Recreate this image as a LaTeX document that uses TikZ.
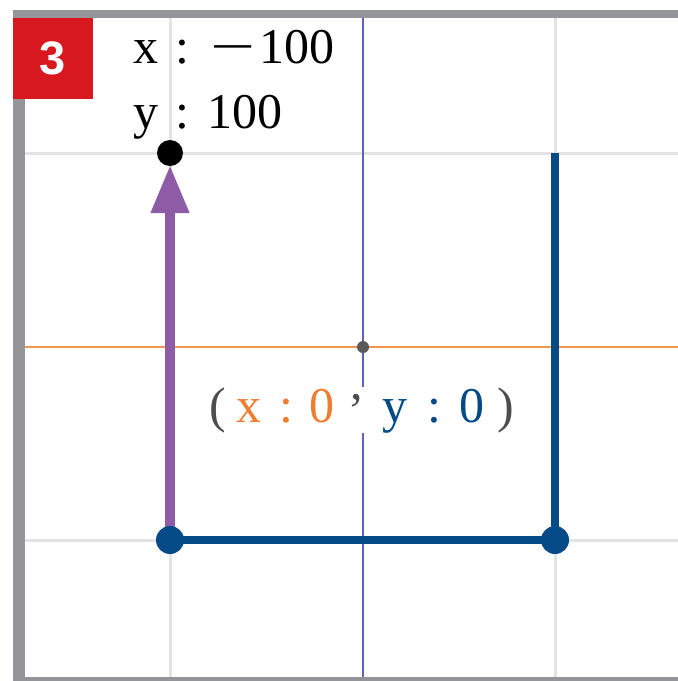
\documentclass[tikz,border=0pt]{standalone}
\usepackage{graphicx}
\usepackage{fontspec}
\setmainfont{Liberation Serif}
\newfontfamily\badgefont{Liberation Sans}
\usetikzlibrary{arrows.meta}
\definecolor{framegray}{HTML}{939598}
\definecolor{badgered}{HTML}{D7191F}
\definecolor{gridgray}{HTML}{E3E3E3}
\definecolor{axisorange}{HTML}{F39550}
\definecolor{axisblue}{HTML}{5B63BE}
\definecolor{routeblue}{HTML}{034A86}
\definecolor{vecpurple}{HTML}{8E5BA6}
\definecolor{textorange}{HTML}{EE7D31}
\definecolor{textgray}{HTML}{4D4D4D}
\begin{document}
\begin{tikzpicture}[
  x=1pt, y=-1pt,
  every node/.style={inner sep=0pt, font=\fontsize{50}{58}\selectfont},
  gridline/.style={gridgray, line width=3pt},
  dot/.style={circle, fill=#1, minimum size=28pt},
  vector/.style={vecpurple, line width=10pt,
    -{Triangle[length=48pt, width=36pt]}, shorten >=12pt},
  route/.style={routeblue, line width=8pt}
]
\useasboundingbox (0,0) rectangle (678,681);
% frame
\fill[framegray] (13,10) rectangle (678,18);
\fill[framegray] (13,10) rectangle (25,681);
\fill[framegray] (13,677) rectangle (678,681);
% grid and axes
\foreach \g in {170,555}
  \draw[gridline] (\g,18) -- (\g,677);
\foreach \g in {153,540}
  \draw[gridline] (25,\g) -- (678,\g);
\draw[axisorange, line width=2.4pt] (25,347) -- (678,347);
\draw[axisblue, line width=1.8pt] (363,18) -- (363,677);
\node[dot=black!65, minimum size=12pt] (origin) at (363,347) {};
\node[fill=white, anchor=base west] (coords) at (209,422)
  {\color{textgray}(\hspace{11pt}\color{textorange}x\hspace{18pt}:\hspace{16pt}0%
   \hspace{16pt}\color{textgray}\raisebox{0.45em}{,}\hspace{19pt}\color{routeblue}y%
   \hspace{20pt}:\hspace{18pt}0\hspace{13pt}\color{textgray})};
% badge and target values
\node[fill=badgered, minimum width=80pt, minimum height=81pt, text=white,
  font=\badgefont\bfseries\fontsize{47}{50}\selectfont] (badge) at (53,58.5) {3};
\node[anchor=base west] (xval) at (133,63)
  {x\hspace{17pt}:\hspace{21pt}\scalebox{1.6}[1]{−}\hspace{4pt}100};
\node[anchor=base west] (yval) at (133,128)
  {y\hspace{17pt}:\hspace{18pt}100};
% points
\coordinate (start) at (170,540);
\coordinate (corner) at (555,540);
\coordinate (top) at (555,153);
\coordinate (target) at (170,153);
\draw[vector] (start) -- (target);
\draw[route] (start) -- (corner) -- (top);
\node[dot=black, minimum size=26pt] (targetdot) at (target) {};
\node[dot=routeblue] (startdot) at (start) {};
\node[dot=routeblue] (cornerdot) at (corner) {};
\end{tikzpicture}
\end{document}
